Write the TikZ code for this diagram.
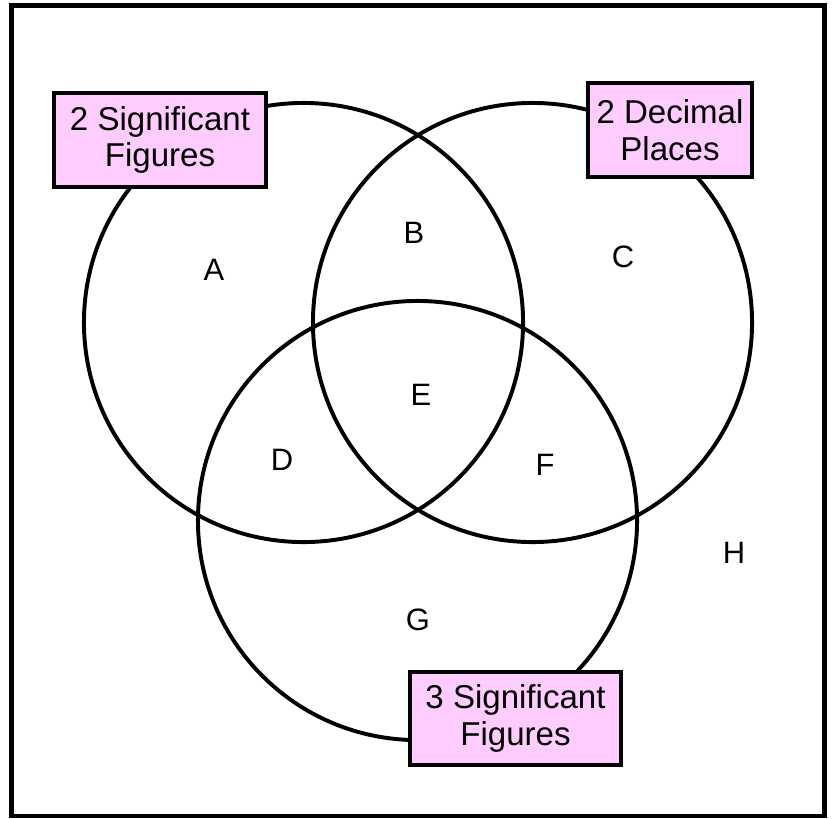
\documentclass[tikz,border=0pt]{standalone}
\usepackage{fontspec}
\setmainfont{Liberation Sans}
\usetikzlibrary{positioning}
\definecolor{boxpink}{RGB}{255,204,255}
\tikzset{
  setcircle/.style={circle, draw, line width=2.8pt, minimum size=10.975cm, inner sep=0pt},
  region/.style={font=\fontsize{22}{26}\selectfont},
  titlebox/.style={rectangle, draw, line width=2.3pt, fill=boxpink, align=center,
    inner sep=0pt, font=\fontsize{23.5}{26}\selectfont},
}

\begin{document}
\begin{tikzpicture}[x=0.025cm, y=-0.025cm]
  \useasboundingbox (0,0) rectangle (832,818);
  \draw[line width=3.5pt] (11.5,5.5) rectangle (824.5,816);
  % the three sets
  \node[setcircle] (twosf) at (303.5,322.5) {};
  \node[setcircle] (twodp) at (532.5,322.5) {};
  \node[setcircle] (threesf) at (417.5,520.5) {};
  % regions
  \node[region] (A) at (214,270) {A};
  \node[region] (B) at (414,233) {B};
  \node[region] (C) at (623,257) {C};
  \node[region] (D) at (282,460) {D};
  \node[region] (E) at (421,395) {E};
  \node[region] (F) at (545,465) {F};
  \node[region] (G) at (418,620) {G};
  \node[region] (H) at (734,553) {H};
  % set names
  \node[titlebox, minimum width=5.3cm, minimum height=2.35cm] (twosflabel) at (160,140) {2 Significant\\Figures};
  \node[titlebox, minimum width=4.1cm, minimum height=2.35cm] (twodplabel) at (670,130) {2 Decimal\\Places};
  \node[titlebox, minimum width=5.275cm, minimum height=2.325cm] (threesflabel) at (515.5,718.5) {3 Significant\\Figures};
\end{tikzpicture}
\end{document}
